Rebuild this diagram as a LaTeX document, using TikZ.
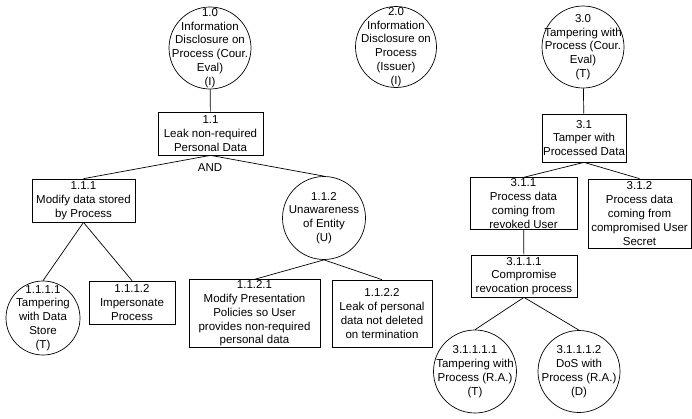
\documentclass[tikz,border=0pt]{standalone}
\usepackage{fontspec}
\setmainfont{Liberation Sans}
\usepackage{tikz}

\tikzset{
    task/.style={draw, align=center, inner sep=1pt},
    threat/.style={draw, circle, inner sep=0pt},
}

\begin{document}
\begin{tikzpicture}[x=1pt, y=-1pt, line width=0.7pt,
    font=\fontsize{11.5}{13.8}\selectfont,
    every label/.style={align=center}]
    \useasboundingbox (0, 0) rectangle (692, 418);

    % roots
    \node[threat, minimum size=82, label=center:{1.0\\Information\\Disclosure on\\Process (Cour.\\Eval)\\(I)}] at (210, 48) (T10) {};
    \node[threat, minimum size=81, label=center:{2.0\\Information\\Disclosure on\\Process\\(Issuer)\\(I)}] at (396, 47) (T20) {};
    \node[threat, minimum size=82, label=center:{3.0\\Tampering with\\Process (Cour.\\Eval)\\(T)}] at (583, 47) (T30) {};

    % tree 1
    \node[task, minimum width=105, minimum height=43] at (210.5, 133.5) (T11) {1.1\\Leak non-required\\Personal Data};
    \node at (210, 168) (AND) {AND};
    \node[task, minimum width=103, minimum height=43] at (83.5, 200.5) (T111) {1.1.1\\Modify data stored\\by Process};
    \node[threat, minimum size=83, label=center:{1.1.2\\Unawareness\\of Entity\\(U)}] at (324, 218) (T112) {};
    \node[threat, minimum size=74, label=center:{1.1.1.1\\Tampering\\with Data\\Store\\(T)}] at (43, 318) (T1111) {};
    \node[task, minimum width=86, minimum height=43] at (132, 302.5) (T1112) {1.1.1.2\\Impersonate\\Process};
    \node[task, minimum width=131, minimum height=67] at (254.5, 313.5) (T1121) {1.1.2.1\\Modify Presentation\\Policies so User\\provides non-required\\personal data};
    \node[task, minimum width=100, minimum height=67] at (382, 313.5) (T1122) {1.1.2.2\\Leak of personal\\data not deleted\\on termination};

    % tree 3
    \node[task, minimum width=84, minimum height=48] at (584, 138) (T31) {3.1\\Tamper with\\Processed Data};
    \node[task, minimum width=107, minimum height=49] at (523.5, 203.5) (T311) {3.1.1\\Process data\\coming from\\revoked User};
    \node[task, minimum width=103, minimum height=69] at (639.5, 213.5) (T312) {3.1.2\\Process data\\coming from\\compromised User\\Secret};
    \node[task, minimum width=106, minimum height=42] at (524, 276) (T3111) {3.1.1.1\\Compromise\\revocation process};
    \node[threat, minimum size=83, label=center:{3.1.1.1.1\\Tampering with\\Process (R.A.)\\(T)}] at (475, 371.5) (T31111) {};
    \node[threat, minimum size=82, label=center:{3.1.1.1.2\\DoS with\\Process (R.A.)\\(D)}] at (579, 371.5) (T31112) {};

    \draw (T10) -- (T11);
    \draw (T11.south) -- (T111.north);
    \draw (T11.south) -- (T112.north);
    \draw (T111.south) -- (T1111.north);
    \draw (T111.south) -- (T1112.north);
    \draw (T112.south) -- (T1121.north);
    \draw (T112.south) -- (T1122.north);

    \draw (T30) -- (T31);
    \draw (T31.south) -- (T311.north);
    \draw (T31.south) -- (T312.north);
    \draw (T311) -- (T3111);
    \draw (T3111.south) -- (T31111.north);
    \draw (T3111.south) -- (T31112.north);
\end{tikzpicture}
\end{document}
